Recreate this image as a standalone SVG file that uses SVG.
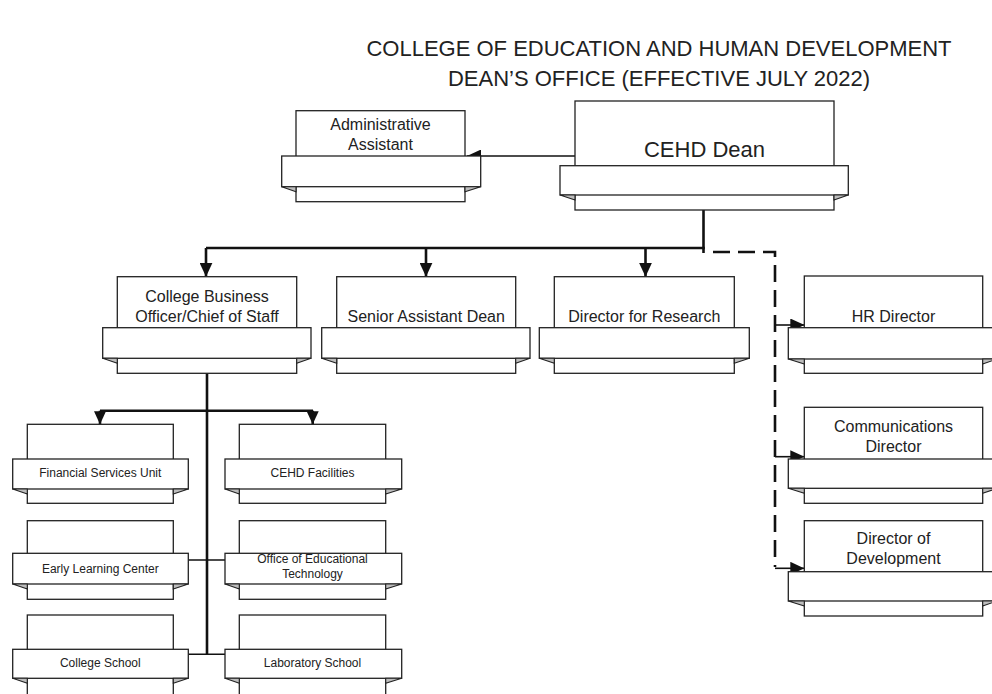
<svg xmlns="http://www.w3.org/2000/svg" width="992" height="694" viewBox="0 0 992 694">
<style>
.back,.banner{fill:#fff;stroke:#222;stroke-width:1.3}
.fold{fill:#bdbdbd;stroke:#222;stroke-width:1.1;stroke-linejoin:miter}
text{font-family:"Liberation Sans",Arial,sans-serif;fill:#222;text-anchor:middle}
.title{font-size:22px}
.big{font-size:22px}
.mid{font-size:16px}
.small{font-size:12px}
.thin{fill:none;stroke:#111;stroke-width:1.6}
.thick{fill:none;stroke:#111;stroke-width:2.6}
.dash{fill:none;stroke:#111;stroke-width:2.6;stroke-dasharray:17 8}
</style>
<defs>
<marker id="arr" viewBox="0 0 14 13" markerWidth="14" markerHeight="13" refX="14" refY="6.5" orient="auto" markerUnits="userSpaceOnUse">
<path d="M0,0 L14,6.5 L0,13 z" fill="#111"/>
</marker>
<marker id="arrs" viewBox="0 0 13 12" markerWidth="13" markerHeight="12" refX="13" refY="6" orient="auto" markerUnits="userSpaceOnUse">
<path d="M0,0 L13,6 L0,12 z" fill="#111"/>
</marker>
</defs>
<rect width="992" height="694" fill="#fff"/>
<g id="title">
<text class="title" x="659" y="56">COLLEGE OF EDUCATION AND HUMAN DEVELOPMENT</text>
<text class="title" x="659" y="86">DEAN’S OFFICE (EFFECTIVE JULY 2022)</text>
</g>
<g id="connectors">
<path class="thin" d="M575,156 H467" marker-end="url(#arr)"/>
<path class="thick" d="M703.5,210 V253"/>
<path class="thick" d="M206,248 H704.8"/>
<path class="thick" d="M206,248 V276.7" marker-end="url(#arr)"/>
<path class="thick" d="M426,248 V276.7" marker-end="url(#arr)"/>
<path class="thick" d="M645.5,248 V276.7" marker-end="url(#arr)"/>
<path class="dash" d="M713,252 H775 V567"/>
<path class="thin" d="M775,325 H804.3" marker-end="url(#arr)"/>
<path class="thin" d="M775,456.7 H804.3" marker-end="url(#arr)"/>
<path class="thin" d="M775,568.3 H804.3" marker-end="url(#arr)"/>
<path class="thick" d="M207,373.3 V655"/>
<path class="thick" d="M100,410.7 H313"/>
<path class="thick" d="M100,410.7 V424.3" marker-end="url(#arrs)"/>
<path class="thick" d="M312.7,410.7 V424.3" marker-end="url(#arrs)"/>
<path class="thin" d="M188.3,560 H225"/>
<path class="thin" d="M188.3,654.3 H225"/>
</g>
<g id="admin-assistant">
<rect class="back" x="296" y="110.7" width="169" height="91"/>
<rect class="banner" x="281.7" y="156" width="199" height="30.7"/>
<polygon class="fold" points="281.7,186.7 296,186.7 296,191.7"/>
<polygon class="fold" points="480.7,186.7 465,186.7 465,191.7"/>
<text class="mid" x="380.5" y="130">Administrative</text>
<text class="mid" x="380.5" y="150">Assistant</text>
</g>
<g id="cehd-dean">
<rect class="back" x="575" y="101" width="259" height="109"/>
<rect class="banner" x="560" y="165.7" width="288.3" height="29.3"/>
<polygon class="fold" points="560,195 575,195 575,200"/>
<polygon class="fold" points="848.3,195 834,195 834,200"/>
<text class="big" x="704.5" y="157.3">CEHD Dean</text>
</g>
<g id="college-business-officer">
<rect class="back" x="117.3" y="276.7" width="179.4" height="96.6"/>
<rect class="banner" x="102.7" y="327.7" width="208.3" height="30.6"/>
<polygon class="fold" points="102.7,358.3 117.3,358.3 117.3,363.3"/>
<polygon class="fold" points="311,358.3 296.7,358.3 296.7,363.3"/>
<text class="mid" x="207" y="301.7">College Business</text>
<text class="mid" x="207" y="321.7">Officer/Chief of Staff</text>
</g>
<g id="senior-assistant-dean">
<rect class="back" x="336.7" y="276.7" width="179" height="96.6"/>
<rect class="banner" x="321.7" y="327.7" width="208.3" height="30.6"/>
<polygon class="fold" points="321.7,358.3 336.7,358.3 336.7,363.3"/>
<polygon class="fold" points="530,358.3 515.7,358.3 515.7,363.3"/>
<text class="mid" x="426.2" y="321.7">Senior Assistant Dean</text>
</g>
<g id="director-for-research">
<rect class="back" x="554.3" y="276.7" width="180" height="96.6"/>
<rect class="banner" x="539.3" y="327.7" width="210" height="30.6"/>
<polygon class="fold" points="539.3,358.3 554.3,358.3 554.3,363.3"/>
<polygon class="fold" points="749.3,358.3 734.3,358.3 734.3,363.3"/>
<text class="mid" x="644.3" y="321.7">Director for Research</text>
</g>
<g id="hr-director">
<rect class="back" x="804.3" y="276" width="178.4" height="97.3"/>
<rect class="banner" x="788.3" y="327.7" width="208.7" height="31.3"/>
<polygon class="fold" points="788.3,359 804.3,359 804.3,364"/>
<polygon class="fold" points="997,359 982.7,359 982.7,364"/>
<text class="mid" x="893.5" y="322.3">HR Director</text>
</g>
<g id="communications-director">
<rect class="back" x="804.3" y="407.3" width="178.4" height="96"/>
<rect class="banner" x="788.3" y="459" width="208.7" height="29.3"/>
<polygon class="fold" points="788.3,488.3 804.3,488.3 804.3,493.3"/>
<polygon class="fold" points="997,488.3 982.7,488.3 982.7,493.3"/>
<text class="mid" x="893.5" y="431.7">Communications</text>
<text class="mid" x="893.5" y="451.7">Director</text>
</g>
<g id="director-of-development">
<rect class="back" x="804.3" y="520.7" width="178.4" height="95.3"/>
<rect class="banner" x="788.3" y="571.7" width="208.7" height="29.3"/>
<polygon class="fold" points="788.3,601 804.3,601 804.3,606"/>
<polygon class="fold" points="997,601 982.7,601 982.7,606"/>
<text class="mid" x="893.5" y="544">Director of</text>
<text class="mid" x="893.5" y="564">Development</text>
</g>
<g id="financial-services-unit">
<rect class="back" x="27.3" y="424.3" width="146" height="79"/>
<rect class="banner" x="12.7" y="459" width="175.6" height="30"/>
<polygon class="fold" points="12.7,489 27.3,489 27.3,494"/>
<polygon class="fold" points="188.3,489 173.3,489 173.3,494"/>
<text class="small" x="100.3" y="476.7">Financial Services Unit</text>
</g>
<g id="cehd-facilities">
<rect class="back" x="239.3" y="424.3" width="146.4" height="79"/>
<rect class="banner" x="225" y="459" width="176.7" height="30"/>
<polygon class="fold" points="225,489 239.3,489 239.3,494"/>
<polygon class="fold" points="401.7,489 385.7,489 385.7,494"/>
<text class="small" x="312.5" y="476.7">CEHD Facilities</text>
</g>
<g id="early-learning-center">
<rect class="back" x="27.3" y="520.7" width="146" height="78.6"/>
<rect class="banner" x="12.7" y="553.3" width="175.6" height="30.7"/>
<polygon class="fold" points="12.7,584 27.3,584 27.3,589"/>
<polygon class="fold" points="188.3,584 173.3,584 173.3,589"/>
<text class="small" x="100.3" y="572.7">Early Learning Center</text>
</g>
<g id="office-of-educational-technology">
<rect class="back" x="239.3" y="520.7" width="146.4" height="78.6"/>
<rect class="banner" x="225" y="553.3" width="176.7" height="30.7"/>
<polygon class="fold" points="225,584 239.3,584 239.3,589"/>
<polygon class="fold" points="401.7,584 385.7,584 385.7,589"/>
<text class="small" x="312.5" y="563.3">Office of Educational</text>
<text class="small" x="312.5" y="578.3">Technology</text>
</g>
<g id="college-school">
<rect class="back" x="27.3" y="615" width="146" height="82"/>
<rect class="banner" x="12.7" y="649.3" width="175.6" height="29"/>
<polygon class="fold" points="12.7,678.3 27.3,678.3 27.3,683.3"/>
<polygon class="fold" points="188.3,678.3 173.3,678.3 173.3,683.3"/>
<text class="small" x="100.3" y="666.7">College School</text>
</g>
<g id="laboratory-school">
<rect class="back" x="239.3" y="615" width="146.4" height="82"/>
<rect class="banner" x="225" y="649.3" width="176.7" height="29"/>
<polygon class="fold" points="225,678.3 239.3,678.3 239.3,683.3"/>
<polygon class="fold" points="401.7,678.3 385.7,678.3 385.7,683.3"/>
<text class="small" x="312.5" y="666.7">Laboratory School</text>
</g>
</svg>
